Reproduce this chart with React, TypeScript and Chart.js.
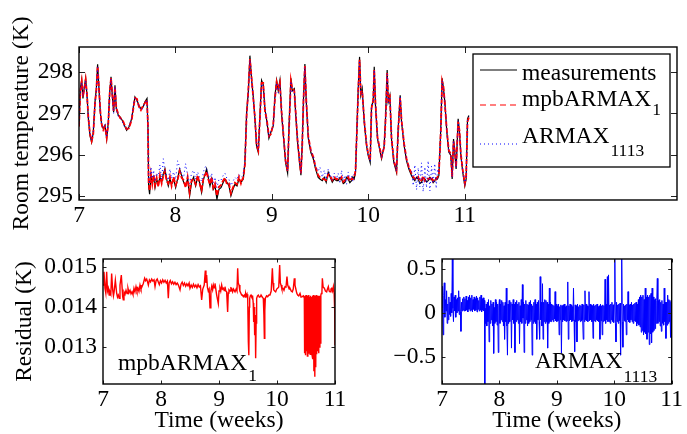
import React, { useEffect, useRef } from "react";
import { Chart, registerables } from "chart.js";
Chart.register(...registerables);

const SERIF = "'Liberation Serif', 'Times New Roman', Times, serif";
const FS = 23.5;
const SUB_FS = 17.5;

// ---------- Top panel: room temperature (K) vs time (weeks) ----------
const TEMP_T = [
  7.000, 7.014, 7.028, 7.041, 7.055, 7.069, 7.083, 7.097, 7.114, 7.131, 7.148, 7.166, 7.180, 7.193, 7.207, 7.221, 7.235, 7.252, 7.270, 7.287, 7.304, 7.318, 7.332, 7.345, 7.359, 7.373, 7.387, 7.408, 7.428, 7.449, 7.470, 7.494, 7.518, 7.546, 7.566, 7.580, 7.601, 7.622, 7.642, 7.663, 7.684, 7.705, 7.715,
  7.722, 7.732, 7.746, 7.760, 7.774, 7.788, 7.805, 7.822, 7.839, 7.857, 7.874, 7.891, 7.908, 7.926, 7.943, 7.960, 7.981, 8.002, 8.022, 8.043, 8.064, 8.085, 8.105, 8.126, 8.147, 8.167, 8.188, 8.209, 8.230, 8.250, 8.271, 8.292, 8.313, 8.323, 8.340, 8.358, 8.375, 8.392, 8.410, 8.430, 8.451, 8.472, 8.496, 8.513, 8.534, 8.555, 8.575, 8.596, 8.617, 8.638, 8.658, 8.679, 8.693, 8.703,
  8.720, 8.738, 8.755, 8.772, 8.790, 8.807, 8.824, 8.841, 8.859, 8.876, 8.893, 8.910, 8.928, 8.948, 8.969, 8.990, 9.014, 9.031, 9.049, 9.066, 9.083, 9.100, 9.121, 9.142, 9.163, 9.176, 9.197, 9.211, 9.232, 9.246, 9.266, 9.287, 9.301, 9.315, 9.328, 9.342, 9.356, 9.377, 9.404, 9.429, 9.453, 9.480, 9.498, 9.522, 9.543, 9.563, 9.584, 9.605, 9.626, 9.646, 9.670,
  9.687, 9.705, 9.722, 9.740, 9.757, 9.774, 9.791, 9.808, 9.826, 9.840, 9.853,
  9.867, 9.881, 9.895, 9.909, 9.922, 9.936, 9.957, 9.981, 9.998, 10.019,
  10.033, 10.050, 10.061, 10.074, 10.095, 10.109, 10.137, 10.164, 10.178, 10.195,
  10.206, 10.223, 10.240, 10.264, 10.292, 10.309, 10.330, 10.344, 10.371, 10.396,
  10.420, 10.448, 10.465, 10.482, 10.500, 10.517, 10.534, 10.551, 10.568, 10.586,
  10.603, 10.620, 10.638, 10.655, 10.672, 10.689, 10.703, 10.717, 10.731, 10.751,
  10.765, 10.779, 10.793, 10.814, 10.834, 10.855, 10.869, 10.883, 10.896, 10.910,
  10.931, 10.945, 10.959, 10.979, 11.000, 11.014, 11.028, 11.042,
];
const TEMP_MEAS = [
  296.71, 297.60, 297.81, 297.36, 297.64, 297.85, 297.44, 296.87, 296.46, 296.30, 296.54, 297.28, 297.60, 298.19, 297.60, 297.03, 296.71, 296.63, 296.71, 296.38, 296.79, 297.52, 297.89, 297.44, 297.03, 297.68, 297.11, 296.95, 296.91, 296.83, 296.71, 296.59, 296.67, 296.87, 297.19, 297.40, 297.32, 297.19, 297.11, 297.15, 297.28, 297.36, 296.63,
  295.24, 295.04, 295.49, 295.33, 295.45, 295.20, 295.41, 295.28, 295.45, 295.33, 295.53, 295.65, 295.41, 295.24, 295.41, 295.28, 295.41, 295.20, 295.41, 295.65, 295.49, 295.33, 295.24, 295.41, 295.00, 295.33, 295.45, 295.24, 295.45, 295.33, 295.08, 295.41, 295.57, 295.65, 295.45, 295.24, 295.41, 295.16, 295.24, 294.92, 295.16, 295.20, 295.33, 295.41, 295.33, 295.24, 295.00, 295.16, 295.28, 295.24, 295.41, 295.33, 295.37, 295.41,
  295.80, 297.03, 297.50, 298.40, 297.80, 297.40, 296.87, 296.20, 296.05, 296.95, 297.80, 297.70, 297.10, 296.80, 296.40, 296.55, 296.70, 297.40, 297.80, 297.55, 297.80, 297.00, 296.40, 295.80, 295.55, 296.60, 297.85, 297.55, 297.60, 297.00, 296.30, 295.80, 295.50, 296.30, 297.40, 298.20, 297.30, 296.40, 296.05, 295.90, 295.65, 295.45, 295.41, 295.37, 295.45, 295.33, 295.57, 295.45, 295.33, 295.41, 295.37,
  295.37, 295.44, 295.41, 295.30, 295.33, 295.45, 295.41, 295.32, 295.37, 295.46, 295.41,
  295.57, 296.63, 297.60, 298.37, 297.44, 297.60, 296.79, 296.22, 295.98, 295.81,
  297.19, 297.28, 298.13, 297.19, 296.38, 296.22, 295.90, 296.22, 296.87, 298.05,
  297.28, 297.44, 296.38, 295.81, 295.57, 296.63, 297.44, 296.79, 296.22, 295.85,
  295.65, 295.49, 295.42, 295.37, 295.45, 295.41, 295.30, 295.33, 295.44, 295.41,
  295.34, 295.37, 295.45, 295.41, 295.32, 295.37, 295.44, 295.41, 295.49, 296.63,
  297.85, 297.60, 297.28, 296.54, 296.06, 295.98, 295.41, 296.38, 296.06, 295.65,
  296.87, 296.54, 295.98, 295.57, 295.24, 295.41, 296.87, 296.95,
];
const TEMP_MPB = [
  296.68, 297.55, 297.78, 297.40, 297.60, 297.82, 297.47, 296.90, 296.50, 296.33, 296.50, 297.24, 297.57, 298.15, 297.63, 297.06, 296.74, 296.60, 296.68, 296.41, 296.76, 297.48, 297.86, 297.47, 297.06, 297.64, 297.14, 296.98, 296.88, 296.86, 296.74, 296.62, 296.64, 296.84, 297.16, 297.37, 297.35, 297.16, 297.08, 297.18, 297.25, 297.33, 296.70,
  295.30, 295.12, 295.52, 295.28, 295.50, 295.26, 295.44, 295.22, 295.50, 295.30, 295.48, 295.60, 295.36, 295.30, 295.46, 295.24, 295.46, 295.26, 295.38, 295.60, 295.44, 295.38, 295.20, 295.46, 295.08, 295.38, 295.40, 295.28, 295.50, 295.30, 295.14, 295.46, 295.52, 295.60, 295.40, 295.28, 295.46, 295.20, 295.30, 295.00, 295.22, 295.26, 295.38, 295.44, 295.28, 295.30, 295.06, 295.20, 295.32, 295.28, 295.46, 295.30, 295.40, 295.44,
  295.75, 296.95, 297.55, 298.32, 297.85, 297.36, 296.90, 296.25, 296.10, 296.90, 297.74, 297.74, 297.05, 296.84, 296.45, 296.50, 296.74, 297.35, 297.76, 297.60, 297.75, 297.05, 296.45, 295.85, 295.60, 296.52, 297.80, 297.60, 297.55, 297.05, 296.35, 295.85, 295.55, 296.25, 297.35, 298.15, 297.35, 296.45, 296.10, 295.95, 295.70, 295.50, 295.45, 295.42, 295.40, 295.38, 295.52, 295.48, 295.38, 295.45, 295.40,
  295.42, 295.40, 295.46, 295.34, 295.38, 295.42, 295.46, 295.36, 295.42, 295.40, 295.45,
  295.62, 296.55, 297.55, 298.30, 297.50, 297.55, 296.84, 296.26, 296.02, 295.86,
  297.12, 297.32, 298.06, 297.24, 296.42, 296.26, 295.95, 296.18, 296.82, 297.98,
  297.32, 297.40, 296.42, 295.86, 295.62, 296.56, 297.38, 296.84, 296.26, 295.90,
  295.70, 295.54, 295.46, 295.42, 295.40, 295.46, 295.35, 295.38, 295.48, 295.36,
  295.40, 295.42, 295.40, 295.46, 295.36, 295.42, 295.40, 295.46, 295.54, 296.56,
  297.78, 297.64, 297.24, 296.58, 296.10, 296.02, 295.46, 296.32, 296.10, 295.70,
  296.80, 296.58, 296.02, 295.62, 295.30, 295.46, 296.80, 296.90,
];
const TEMP_ARMAX = [
  296.74, 297.57, 297.75, 297.42, 297.61, 297.80, 297.40, 296.92, 296.49, 296.35, 296.57, 297.25, 297.55, 298.12, 297.58, 297.00, 296.76, 296.66, 296.74, 296.42, 296.82, 297.49, 297.84, 297.41, 297.00, 297.65, 297.08, 296.92, 296.88, 296.80, 296.68, 296.62, 296.70, 296.90, 297.22, 297.37, 297.29, 297.16, 297.08, 297.12, 297.25, 297.33, 296.68,
  295.45, 295.30, 295.70, 295.42, 295.62, 295.35, 295.55, 295.48, 295.75, 295.40, 295.90, 295.60, 295.50, 295.38, 295.65, 295.42, 295.58, 295.40, 295.85, 295.70, 295.52, 295.45, 295.78, 295.50, 295.30, 295.55, 295.62, 295.40, 295.58, 295.45, 295.35, 295.60, 295.72, 295.65, 295.52, 295.38, 295.55, 295.32, 295.45, 295.20, 295.40, 295.38, 295.50, 295.55, 295.42, 295.40, 295.25, 295.35, 295.45, 295.40, 295.52, 295.45, 295.48, 295.55,
  295.85, 296.98, 297.45, 298.30, 297.76, 297.42, 296.82, 296.28, 296.12, 296.88, 297.72, 297.66, 297.14, 296.76, 296.44, 296.60, 296.66, 297.36, 297.74, 297.50, 297.72, 297.08, 296.44, 295.86, 295.62, 296.55, 297.78, 297.50, 297.56, 297.04, 296.36, 295.86, 295.56, 296.34, 297.34, 298.12, 297.26, 296.44, 296.10, 295.96, 295.72, 295.60, 295.70, 295.45, 295.62, 295.40, 295.65, 295.50, 295.38, 295.55, 295.42,
  295.55, 295.30, 295.62, 295.38, 295.50, 295.28, 295.58, 295.40, 295.48, 295.35, 295.52,
  295.60, 296.58, 297.52, 298.28, 297.48, 297.52, 296.82, 296.25, 296.00, 295.84,
  297.14, 297.26, 298.05, 297.22, 296.40, 296.25, 295.92, 296.20, 296.84, 297.96,
  297.26, 297.40, 296.40, 295.84, 295.60, 296.58, 297.40, 296.80, 296.24, 295.88,
  295.68, 295.60, 295.25, 295.75, 295.15, 295.68, 295.22, 295.80, 295.10, 295.70,
  295.20, 295.85, 295.12, 295.72, 295.30, 295.78, 295.18, 295.65, 295.55, 296.58,
  297.80, 297.56, 297.26, 296.56, 296.08, 296.00, 295.45, 296.34, 296.08, 295.68,
  296.82, 296.56, 296.00, 295.60, 295.28, 295.44, 296.82, 296.92,
];
const SERIES_NAMES = ["measurements", "mpbARMAX", "ARMAX"];
const SERIES_SUBS = ["", "1", "1113"];
const TOP_X_TICKS = [7, 8, 9, 10, 11];
const TOP_X_LABELS = ["7", "8", "9", "10", "11"];
const TOP_Y_TICKS = [295, 296, 297, 298];
const TOP_Y_LABELS = ["295", "296", "297", "298"];

// ---------- Bottom left: mpbARMAX_1 residual ----------
const RES1_T = [
  7.000, 7.017, 7.034, 7.048, 7.063, 7.078, 7.092, 7.106, 7.120, 7.135,
  7.149, 7.167, 7.180, 7.190, 7.213, 7.236, 7.250, 7.264, 7.280, 7.293,
  7.316, 7.339, 7.350, 7.362, 7.380, 7.397, 7.414, 7.431, 7.448, 7.466,
  7.483, 7.500, 7.517, 7.534, 7.551, 7.569, 7.586, 7.603, 7.620, 7.638,
  7.655, 7.672, 7.695, 7.718, 7.735, 7.753, 7.770, 7.782, 7.800, 7.820,
  7.840, 7.860, 7.880, 7.897, 7.915, 7.935, 7.955, 7.971, 7.990, 8.010,
  8.030, 8.050, 8.070, 8.090, 8.110, 8.126, 8.140, 8.160, 8.180, 8.200,
  8.220, 8.240, 8.260, 8.280, 8.300, 8.328, 8.345, 8.365, 8.385, 8.405,
  8.425, 8.445, 8.465, 8.485, 8.500, 8.520, 8.540, 8.560, 8.580, 8.600,
  8.620, 8.640, 8.660, 8.680, 8.701, 8.720, 8.745, 8.764, 8.775, 8.787,
  8.800, 8.815, 8.830, 8.845, 8.860, 8.875, 8.890, 8.902, 8.915, 8.931,
  8.960, 8.988, 9.000, 9.017, 9.030, 9.046, 9.060, 9.075, 9.090, 9.103,
  9.118, 9.132, 9.149, 9.160, 9.172, 9.190, 9.205, 9.218, 9.235, 9.250,
  9.276, 9.295, 9.310, 9.322, 9.332, 9.345, 9.360, 9.379, 9.390, 9.402,
  9.420, 9.437, 9.450, 9.460, 9.472, 9.483, 9.495, 9.506, 9.512, 9.517,
  9.523, 9.529, 9.540, 9.552, 9.566, 9.580, 9.590, 9.598, 9.606, 9.615,
  9.624, 9.632, 9.640, 9.649, 9.664, 9.678, 9.695, 9.713, 9.725, 9.736,
  9.750, 9.764, 9.774, 9.782, 9.790, 9.799, 9.820, 9.839, 9.860, 9.879,
  9.900, 9.920, 9.932, 9.943, 9.960, 9.977, 9.995, 10.011, 10.030, 10.046,
  10.058, 10.069, 10.085, 10.103, 10.120, 10.138, 10.155, 10.172, 10.185, 10.195,
  10.210, 10.224, 10.245, 10.264, 10.280, 10.299, 10.310, 10.322, 10.340, 10.356,
  10.375, 10.397, 10.415, 10.437, 10.455, 10.471, 10.476, 10.484, 10.492, 10.500,
  10.508, 10.516, 10.524, 10.532, 10.540, 10.548, 10.556, 10.564, 10.572, 10.580,
  10.588, 10.596, 10.604, 10.612, 10.620, 10.628, 10.636, 10.644, 10.652, 10.660,
  10.668, 10.676, 10.684, 10.692, 10.700, 10.708, 10.716, 10.724, 10.732, 10.740,
  10.748, 10.756, 10.764, 10.775, 10.782, 10.795, 10.816, 10.835, 10.856, 10.870,
  10.885, 10.900, 10.914, 10.930, 10.943, 10.958, 10.972, 10.985, 10.995, 11.000,
  11.008, 11.015, 11.030,
];
const RES1_V = [
  0.01455, 0.01488, 0.01447, 0.01435, 0.01488, 0.01440, 0.01447, 0.01430, 0.01438, 0.01432,
  0.01484, 0.01443, 0.01428, 0.01436, 0.01467, 0.01434, 0.01425, 0.01430, 0.01422, 0.01455,
  0.01480, 0.01426, 0.01418, 0.01438, 0.01432, 0.01442, 0.01434, 0.01447, 0.01436, 0.01442,
  0.01433, 0.01438, 0.01431, 0.01447, 0.01438, 0.01451, 0.01440, 0.01447, 0.01439, 0.01455,
  0.01445, 0.01451, 0.01459, 0.01472, 0.01466, 0.01470, 0.01462, 0.01455, 0.01468, 0.01463,
  0.01470, 0.01465, 0.01468, 0.01451, 0.01466, 0.01470, 0.01462, 0.01456, 0.01466, 0.01460,
  0.01468, 0.01462, 0.01467, 0.01460, 0.01465, 0.01422, 0.01460, 0.01466, 0.01458, 0.01463,
  0.01457, 0.01462, 0.01456, 0.01460, 0.01455, 0.01443, 0.01457, 0.01462, 0.01454, 0.01460,
  0.01452, 0.01458, 0.01453, 0.01460, 0.01447, 0.01455, 0.01449, 0.01457, 0.01450, 0.01455,
  0.01448, 0.01456, 0.01450, 0.01453, 0.01418, 0.01445, 0.01455, 0.01491, 0.01460, 0.01480,
  0.01450, 0.01440, 0.01445, 0.01398, 0.01440, 0.01452, 0.01443, 0.01455, 0.01448, 0.01459,
  0.01430, 0.01409, 0.01440, 0.01447, 0.01440, 0.01455, 0.01445, 0.01447, 0.01441, 0.01451,
  0.01440, 0.01438, 0.01388, 0.01435, 0.01443, 0.01440, 0.01448, 0.01447, 0.01438, 0.01445,
  0.01438, 0.01445, 0.01440, 0.01497, 0.01460, 0.01455, 0.01440, 0.01434, 0.01430, 0.01430,
  0.01426, 0.01430, 0.01425, 0.01434, 0.01428, 0.01432, 0.01420, 0.01313, 0.01350, 0.01280,
  0.01400, 0.01422, 0.01428, 0.01430, 0.01425, 0.01426, 0.01410, 0.01363, 0.01400, 0.01330,
  0.01380, 0.01272, 0.01360, 0.01422, 0.01428, 0.01430, 0.01425, 0.01426, 0.01430, 0.01430,
  0.01424, 0.01422, 0.01380, 0.01322, 0.01390, 0.01422, 0.01428, 0.01426, 0.01430, 0.01430,
  0.01440, 0.01497, 0.01460, 0.01443, 0.01440, 0.01438, 0.01445, 0.01447, 0.01450, 0.01505,
  0.01460, 0.01455, 0.01445, 0.01447, 0.01442, 0.01451, 0.01450, 0.01476, 0.01455, 0.01451,
  0.01445, 0.01447, 0.01440, 0.01438, 0.01445, 0.01472, 0.01455, 0.01447, 0.01435, 0.01430,
  0.01428, 0.01434, 0.01425, 0.01426, 0.01428, 0.01422, 0.01285, 0.01428, 0.01280, 0.01430,
  0.01290, 0.01425, 0.01278, 0.01428, 0.01300, 0.01430, 0.01285, 0.01426, 0.01282, 0.01428,
  0.01295, 0.01425, 0.01280, 0.01428, 0.01270, 0.01430, 0.01240, 0.01426, 0.01226, 0.01428,
  0.01250, 0.01430, 0.01282, 0.01425, 0.01290, 0.01428, 0.01285, 0.01426, 0.01300, 0.01428,
  0.01310, 0.01430, 0.01434, 0.01440, 0.01472, 0.01450, 0.01447, 0.01440, 0.01438, 0.01445,
  0.01451, 0.01440, 0.01438, 0.01445, 0.01447, 0.01440, 0.01451, 0.01435, 0.01390, 0.01305,
  0.01360, 0.01440, 0.01445,
];
const RES1_Y_TICKS = [0.013, 0.014, 0.015];
const RES1_Y_LABELS = ["0.013", "0.014", "0.015"];

// ---------- Bottom right: ARMAX_1113 residual ----------
const RES2_T = [
  7.00, 7.01, 7.02, 7.03, 7.04, 7.05, 7.06, 7.07, 7.08, 7.09,
  7.10, 7.11, 7.12, 7.13, 7.14, 7.15, 7.16, 7.17, 7.18, 7.19,
  7.20, 7.21, 7.22, 7.23, 7.24, 7.25, 7.26, 7.27, 7.28, 7.29,
  7.30, 7.31, 7.32, 7.33, 7.34, 7.35, 7.36, 7.37, 7.38, 7.39,
  7.40, 7.41, 7.42, 7.43, 7.44, 7.45, 7.46, 7.47, 7.48, 7.49,
  7.50, 7.51, 7.52, 7.53, 7.54, 7.55, 7.56, 7.57, 7.58, 7.59,
  7.60, 7.61, 7.62, 7.63, 7.64, 7.65, 7.66, 7.67, 7.68, 7.69,
  7.70, 7.71, 7.72, 7.73, 7.74, 7.745, 7.75, 7.76, 7.77, 7.78, 7.79,
  7.80, 7.81, 7.82, 7.83, 7.84, 7.85, 7.86, 7.87, 7.88, 7.89,
  7.90, 7.91, 7.92, 7.93, 7.94, 7.95, 7.96, 7.97, 7.98, 7.99,
  8.00, 8.01, 8.02, 8.03, 8.04, 8.05, 8.06, 8.07, 8.08, 8.09,
  8.10, 8.11, 8.12, 8.13, 8.14, 8.15, 8.16, 8.17, 8.18, 8.19,
  8.20, 8.21, 8.22, 8.23, 8.24, 8.25, 8.26, 8.27, 8.28, 8.29,
  8.30, 8.31, 8.32, 8.33, 8.34, 8.35, 8.36, 8.37, 8.38, 8.39,
  8.40, 8.41, 8.42, 8.43, 8.44, 8.45, 8.46, 8.47, 8.48, 8.49,
  8.50, 8.51, 8.52, 8.53, 8.54, 8.55, 8.56, 8.57, 8.58, 8.59,
  8.60, 8.61, 8.62, 8.63, 8.64, 8.65, 8.66, 8.67, 8.68, 8.69,
  8.70, 8.71, 8.72, 8.73, 8.74, 8.75, 8.76, 8.77, 8.78, 8.79,
  8.80, 8.81, 8.82, 8.83, 8.84, 8.85, 8.86, 8.87, 8.88, 8.89,
  8.90, 8.91, 8.92, 8.93, 8.94, 8.95, 8.96, 8.97, 8.98, 8.99,
  9.00, 9.01, 9.02, 9.03, 9.04, 9.05, 9.06, 9.07, 9.08, 9.09,
  9.10, 9.11, 9.12, 9.13, 9.14, 9.15, 9.16, 9.17, 9.18, 9.19,
  9.20, 9.21, 9.22, 9.23, 9.24, 9.25, 9.26, 9.27, 9.28, 9.29,
  9.30, 9.31, 9.32, 9.33, 9.34, 9.35, 9.36, 9.37, 9.38, 9.39,
  9.40, 9.41, 9.42, 9.43, 9.44, 9.45, 9.46, 9.47, 9.48, 9.49,
  9.50, 9.51, 9.52, 9.53, 9.54, 9.55, 9.56, 9.57, 9.58, 9.59,
  9.60, 9.61, 9.62, 9.63, 9.64, 9.65, 9.66, 9.67, 9.68, 9.69,
  9.70, 9.71, 9.72, 9.73, 9.74, 9.75, 9.76, 9.77, 9.78, 9.79,
  9.80, 9.81, 9.82, 9.83, 9.84, 9.85, 9.86, 9.87, 9.88, 9.89,
  9.90, 9.91, 9.92, 9.93, 9.94, 9.95, 9.96, 9.97, 9.98, 9.99,
  10.00, 10.01, 10.02, 10.03, 10.04, 10.05, 10.06, 10.07, 10.08, 10.09,
  10.10, 10.11, 10.12, 10.13, 10.14, 10.15, 10.16, 10.17, 10.18, 10.19,
  10.20, 10.21, 10.22, 10.23, 10.24, 10.25, 10.26, 10.27, 10.28, 10.29,
  10.30, 10.31, 10.32, 10.33, 10.34, 10.35, 10.36, 10.37, 10.38, 10.39,
  10.40, 10.41, 10.42, 10.43, 10.44, 10.45, 10.46, 10.47, 10.48, 10.49,
  10.50, 10.51, 10.52, 10.53, 10.54, 10.55, 10.56, 10.57, 10.58, 10.59,
  10.60, 10.61, 10.62, 10.63, 10.64, 10.65, 10.66, 10.67, 10.68, 10.69,
  10.70, 10.71, 10.72, 10.73, 10.74, 10.75, 10.76, 10.77, 10.78, 10.79,
  10.80, 10.81, 10.82, 10.83, 10.84, 10.85, 10.86, 10.87, 10.88, 10.89,
  10.90, 10.91, 10.92, 10.93, 10.94, 10.95, 10.96, 10.97, 10.98, 10.99,
  11.00, 11.01, 11.02, 11.03, 11.04,
];
const RES2_V = [
  0.30, 0.05, -0.25, 0.20, 0.34, -0.05, 0.15, 0.02, 0.25, -0.12,
  0.10, -0.08, 0.18, -0.02, 0.12, -0.04, 0.22, 0.00, 0.62, 0.05,
  -0.10, 0.18, 0.02, 0.20, -0.05, 0.15, 0.00, 0.17, 0.02, 0.25,
  -0.02, 0.18, 0.01, -0.21, 0.12, 0.02, 0.16, 0.03, 0.18, 0.02,
  0.16, 0.02, 0.19, 0.03, 0.14, 0.01, 0.18, 0.04, 0.20, 0.02,
  0.17, 0.03, 0.20, 0.01, 0.15, 0.04, 0.18, 0.02, 0.16, 0.03,
  0.19, 0.01, 0.17, 0.04, 0.14, 0.02, 0.18, 0.03, 0.20, 0.01,
  0.16, 0.03, 0.17, 0.02, 0.14, -0.82, 0.05, -0.12, 0.10, -0.15, 0.12,
  -0.10, 0.15, -0.33, 0.08, -0.12, 0.14, -0.08, 0.10, -0.15, 0.12,
  -0.46, 0.06, -0.12, 0.15, -0.10, 0.12, -0.14, 0.10, -0.45, 0.08,
  0.15, -0.12, 0.10, -0.08, 0.14, -0.10, 0.12, -0.15, 0.08, -0.30,
  0.12, -0.10, 0.28, -0.15, -0.48, 0.10, -0.12, 0.14, -0.10, 0.08,
  0.12, -0.40, 0.10, -0.08, 0.15, -0.12, 0.10, -0.45, 0.12, -0.10,
  0.14, -0.08, 0.10, -0.12, 0.12, -0.35, 0.08, -0.10, 0.15, -0.12,
  0.32, -0.06, 0.12, -0.45, 0.10, -0.12, 0.14, -0.08, 0.10, -0.15,
  0.09, -0.12, 0.12, -0.10, 0.14, -0.08, 0.10, -0.48, 0.08, -0.12,
  0.12, -0.10, 0.15, -0.12, 0.10, -0.30, 0.12, -0.08, 0.14, -0.10,
  -0.30, 0.41, -0.08, 0.12, -0.15, 0.33, -0.30, 0.12, -0.10, 0.15,
  -0.12, 0.14, -0.10, 0.12, -0.40, 0.10, -0.12, 0.28, -0.10, 0.12,
  -0.10, 0.10, -0.08, 0.09, -0.10, 0.08, -0.07, 0.24, -0.09, 0.10,
  -0.10, 0.08, -0.09, 0.10, -0.25, 0.07, -0.08, 0.09, -0.46, 0.08,
  -0.10, 0.09, -0.08, 0.10, -0.09, 0.07, -0.10, 0.08, -0.09, 0.35,
  -0.30, 0.08, -0.09, 0.10, -0.08, 0.09, -0.10, 0.07, -0.09, 0.28,
  -0.08, -0.44, 0.09, -0.10, 0.08, -0.33, 0.10, -0.09, 0.07, -0.08,
  0.09, -0.10, 0.08, -0.09, 0.10, -0.08, -0.30, 0.09, -0.10, 0.25,
  -0.08, 0.10, -0.09, 0.08, -0.10, 0.07, 0.24, -0.09, 0.10, -0.08,
  0.09, -0.10, 0.08, -0.29, 0.10, -0.09, 0.08, -0.10, 0.09, -0.08,
  0.10, -0.09, 0.07, -0.10, 0.08, -0.30, 0.10, -0.09, 0.08, -0.25,
  0.09, -0.10, 0.08, -0.09, 0.38, -0.12, 0.10, -0.08, 0.41, -0.10,
  0.43, -0.10, 0.09, -0.12, 0.10, -0.08, 0.12, -0.10, 0.09, -0.11,
  0.10, 0.62, -0.12, -0.33, 0.12, -0.10, 0.09, -0.12, 0.10, -0.09,
  0.11, -0.48, 0.10, 0.62, -0.10, -0.39, 0.10, -0.09, 0.08, -0.10,
  0.09, -0.25, 0.10, -0.08, 0.24, -0.10, 0.09, -0.11, 0.10, -0.08,
  0.12, -0.10, 0.09, -0.12, 0.10, -0.09, 0.11, -0.10, 0.12, -0.15,
  0.10, -0.12, 0.15, -0.14, 0.18, -0.16, 0.20, -0.22, 0.18, -0.20,
  0.20, -0.25, 0.15, -0.22, 0.28, -0.24, 0.18, -0.30, 0.20, -0.22,
  0.18, -0.36, 0.20, -0.24, 0.22, -0.34, 0.28, -0.22, 0.18, -0.20,
  0.15, -0.18, 0.16, -0.12, 0.14, 0.39, -0.12, 0.14, -0.10, 0.15,
  -0.15, 0.12, -0.21, 0.14, -0.12, 0.10, -0.14, 0.28, -0.10, 0.12,
  -0.29, 0.12, -0.14, 0.20, -0.12, 0.15, -0.10, 0.14, -0.28, 0.12,
  -0.12, 0.15, -0.10, 0.05, 0.10,
];
const RES2_Y_TICKS = [-0.5, 0, 0.5];
const RES2_Y_LABELS = ["\u22120.5", "0", "0.5"];
const RES_X_TICKS = [7, 8, 9, 10, 11];
const RES_X_LABELS = ["7", "8", "9", "10", "11"];

// ---------- helpers ----------
function pts(t: number[], v: number[]) {
  const n = Math.min(t.length, v.length);
  const out: { x: number; y: number }[] = [];
  for (let i = 0; i < n; i++) out.push({ x: t[i], y: v[i] });
  return out;
}
const tickFont = { family: SERIF, size: FS, lineHeight: 1 };

function framePlugin(tickLen: number) {
  return {
    id: "frame",
    afterDatasetsDraw(chart: any) {
      const { ctx, chartArea: a, scales } = chart;
      ctx.save();
      ctx.strokeStyle = "#222";
      ctx.lineWidth = 1;
      ctx.beginPath();
      for (const t of scales.x.ticks) {
        const px = Math.round(scales.x.getPixelForValue(t.value)) + 0.5;
        ctx.moveTo(px, a.bottom);
        ctx.lineTo(px, a.bottom - tickLen);
        ctx.moveTo(px, a.top);
        ctx.lineTo(px, a.top + tickLen);
      }
      for (const t of scales.y.ticks) {
        const py = Math.round(scales.y.getPixelForValue(t.value)) + 0.5;
        ctx.moveTo(a.left, py);
        ctx.lineTo(a.left + tickLen, py);
        ctx.moveTo(a.right, py);
        ctx.lineTo(a.right - tickLen, py);
      }
      ctx.stroke();
      ctx.strokeStyle = "#000";
      ctx.lineWidth = 1.4;
      ctx.strokeRect(a.left, a.top, a.right - a.left, a.bottom - a.top);
      ctx.restore();
    },
  };
}

const legendPlugin = {
  id: "boxLegend",
  afterDraw(chart: any) {
    const { ctx, chartArea: a } = chart;
    const w = 197;
    const h = 113;
    const bx = a.right - 7 - w;
    const by = a.top + 7;
    const rows = [
      { line: 16, base: 26, sub: 0 },
      { line: 51, base: 52, sub: 61 },
      { line: 90, base: 89, sub: 102 },
    ];
    ctx.save();
    ctx.fillStyle = "#fff";
    ctx.fillRect(bx, by, w, h);
    ctx.strokeStyle = "#000";
    ctx.lineWidth = 1.3;
    ctx.strokeRect(bx, by, w, h);
    chart.data.datasets.forEach((ds: any, i: number) => {
      const r = rows[i];
      ctx.beginPath();
      ctx.setLineDash(i === 2 ? [1, 3] : i === 1 ? [6, 4] : []);
      ctx.strokeStyle = ds.borderColor;
      ctx.lineWidth = 1.2;
      ctx.moveTo(bx + 7, by + r.line);
      ctx.lineTo(bx + 44, by + r.line);
      ctx.stroke();
      ctx.setLineDash([]);
      ctx.fillStyle = "#000";
      ctx.textAlign = "left";
      ctx.textBaseline = "alphabetic";
      ctx.font = `${FS}px ${SERIF}`;
      ctx.fillText(SERIES_NAMES[i], bx + 49, by + r.base);
      if (SERIES_SUBS[i]) {
        const mw = ctx.measureText(SERIES_NAMES[i]).width;
        ctx.font = `${SUB_FS}px ${SERIF}`;
        ctx.fillText(SERIES_SUBS[i], bx + 49 + mw + 1, by + r.sub);
      }
    });
    ctx.restore();
  },
};

function annotationPlugin(main: string, sub: string, dx: number, dy: number, subDy: number) {
  return {
    id: "annot",
    afterDraw(chart: any) {
      const { ctx, chartArea: a } = chart;
      ctx.save();
      ctx.fillStyle = "#000";
      ctx.textAlign = "left";
      ctx.textBaseline = "alphabetic";
      ctx.font = `${FS}px ${SERIF}`;
      ctx.fillText(main, a.left + dx, a.bottom + dy);
      const mw = ctx.measureText(main).width;
      ctx.font = `${SUB_FS}px ${SERIF}`;
      ctx.fillText(sub, a.left + dx + mw + 1, a.bottom + subDy);
      ctx.restore();
    },
  };
}

function axisX(min: number, max: number, ticks: number[], labels: string[], height: number, title?: string) {
  return {
    type: "linear" as const,
    min,
    max,
    afterBuildTicks: (s: any) => {
      s.ticks = ticks.map((v) => ({ value: v }));
    },
    afterFit: (s: any) => {
      s.height = height;
    },
    grid: { display: false, drawTicks: false },
    border: { display: false },
    ticks: {
      padding: 4,
      font: tickFont,
      color: "#000",
      autoSkip: false,
      maxRotation: 0,
      callback: (_v: any, i: number) => labels[i],
    },
    title: title
      ? { display: true, text: title, color: "#000", font: tickFont, padding: { top: 0, bottom: 1 } }
      : { display: false },
  };
}

function axisY(min: number, max: number, ticks: number[], labels: string[], width: number, title?: string, titlePad = 10) {
  return {
    type: "linear" as const,
    min,
    max,
    afterBuildTicks: (s: any) => {
      s.ticks = ticks.map((v) => ({ value: v }));
    },
    afterFit: (s: any) => {
      s.width = width;
    },
    grid: { display: false, drawTicks: false },
    border: { display: false },
    ticks: {
      padding: 6,
      font: tickFont,
      color: "#000",
      autoSkip: false,
      callback: (_v: any, i: number) => labels[i],
    },
    title: title
      ? { display: true, text: title, color: "#000", font: tickFont, padding: { top: titlePad, bottom: 0 } }
      : { display: false },
  };
}

const baseOptions = {
  animation: false as const,
  responsive: false,
  devicePixelRatio: 1,
  events: [] as any[],
  elements: { point: { radius: 0 }, line: { tension: 0, fill: false } },
  plugins: { legend: { display: false }, tooltip: { enabled: false } },
};

export default function App() {
  const topRef = useRef<HTMLCanvasElement>(null);
  const leftRef = useRef<HTMLCanvasElement>(null);
  const rightRef = useRef<HTMLCanvasElement>(null);

  useEffect(() => {
    document.body.style.margin = "0";
    const charts: Chart[] = [];

    charts.push(
      new Chart(topRef.current!, {
        type: "line",
        data: {
          datasets: [
            { label: "measurements", data: pts(TEMP_T, TEMP_MEAS), borderColor: "#000000", borderWidth: 1.2, order: 3 },
            { label: "mpbARMAX1", data: pts(TEMP_T, TEMP_MPB), borderColor: "#ff0000", borderWidth: 1.8, borderDash: [5, 2], order: 2 },
            { label: "ARMAX1113", data: pts(TEMP_T, TEMP_ARMAX), borderColor: "#0000ff", borderWidth: 1, borderDash: [1, 3], order: 1 },
          ],
        },
        options: {
          ...baseOptions,
          layout: { padding: { top: 47, right: 10, left: 0, bottom: 0 } },
          scales: {
            x: axisX(7, 13.2, TOP_X_TICKS, TOP_X_LABELS, 40),
            y: axisY(294.9, 298.61, TOP_Y_TICKS, TOP_Y_LABELS, 79, "Room temperature (K)", 10),
          },
        } as any,
        plugins: [framePlugin(6), legendPlugin],
      })
    );

    charts.push(
      new Chart(leftRef.current!, {
        type: "line",
        data: {
          datasets: [{ label: "mpbARMAX1 residual", data: pts(RES1_T, RES1_V), borderColor: "#ff0000", borderWidth: 1.4 }],
        },
        options: {
          ...baseOptions,
          layout: { padding: { top: 19, right: 25, left: 0, bottom: 0 } },
          scales: {
            x: axisX(7, 11, RES_X_TICKS, RES_X_LABELS, 50, "Time (weeks)"),
            y: axisY(0.01208, 0.0152, RES1_Y_TICKS, RES1_Y_LABELS, 103, "Residual (K)", 13),
          },
        } as any,
        plugins: [framePlugin(3.5), annotationPlugin("mpbARMAX", "1", 15, -14, -3)],
      })
    );

    charts.push(
      new Chart(rightRef.current!, {
        type: "line",
        data: {
          datasets: [{ label: "ARMAX1113 residual", data: pts(RES2_T, RES2_V), borderColor: "#0000ff", borderWidth: 1 }],
        },
        options: {
          ...baseOptions,
          layout: { padding: { top: 19, right: 11, left: 0, bottom: 0 } },
          scales: {
            x: axisX(7, 11, RES_X_TICKS, RES_X_LABELS, 50, "Time (weeks)"),
            y: axisY(-0.807, 0.61, RES2_Y_TICKS, RES2_Y_LABELS, 82),
          },
        } as any,
        plugins: [framePlugin(3.5), annotationPlugin("ARMAX", "1113", 93, -16, -2)],
      })
    );

    return () => charts.forEach((c) => c.destroy());
  }, []);

  return (
    <div style={{ position: "relative", width: 687, height: 434, background: "#fff", overflow: "hidden" }}>
      <canvas ref={topRef} width={687} height={240} style={{ position: "absolute", left: 0, top: 0, width: 687, height: 240 }} />
      <canvas ref={leftRef} width={360} height={194} style={{ position: "absolute", left: 0, top: 240, width: 360, height: 194 }} />
      <canvas ref={rightRef} width={327} height={194} style={{ position: "absolute", left: 360, top: 240, width: 327, height: 194 }} />
    </div>
  );
}
